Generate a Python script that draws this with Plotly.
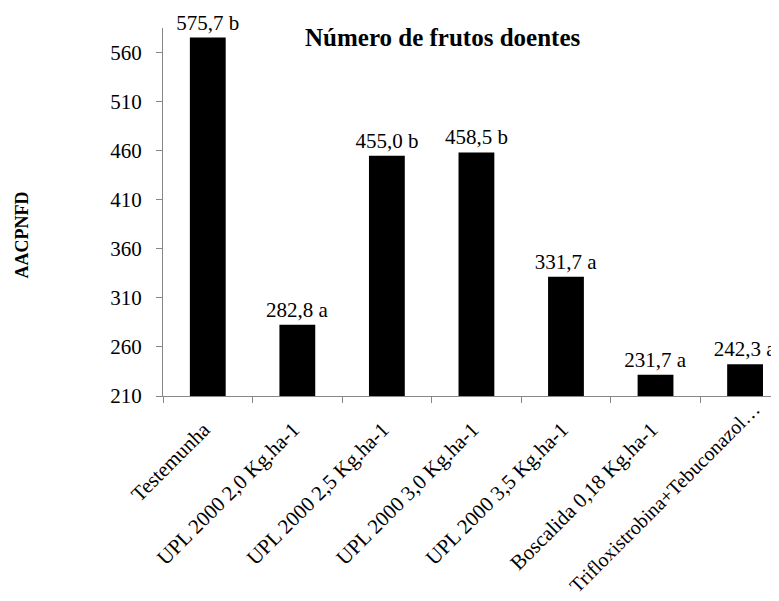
import plotly.graph_objects as go

categories = [
    "Testemunha",
    "UPL 2000 2,0 Kg.ha-1",
    "UPL 2000 2,5 Kg.ha-1",
    "UPL 2000 3,0 Kg.ha-1",
    "UPL 2000 3,5 Kg.ha-1",
    "Boscalida 0,18 Kg.ha-1",
    "Trifloxistrobina+Tebuconazol…",
]
values = [575.7, 282.8, 455.0, 458.5, 331.7, 231.7, 242.3]
letters = ["b", "a", "b", "b", "a", "a", "a"]
labels = [f"{v:.1f}".replace(".", ",") + " " + l for v, l in zip(values, letters)]

FONT = "Liberation Serif, Times New Roman, serif"
AXIS = "#868686"
FS = 21

# page body has an 8px margin, so the figure is offset by 8px in the window
OFF = 8
W, H = 779 - OFF, 601 - OFF
PL, PT, PB = 163 - OFF, 28 - OFF, 396 - OFF  # plot area edges (figure coords)
PW, PH = W - PL, PB - PT

fig = go.Figure(
    go.Bar(
        x=categories,
        y=values,
        width=0.4,
        marker=dict(color="black", line=dict(width=0)),
        text=labels,
        textposition="outside",
        constraintext="none",
        textfont=dict(family=FONT, size=FS, color="black"),
        cliponaxis=False,
    )
)

fig.update_layout(
    width=W,
    height=H,
    margin=dict(l=PL, r=0, t=PT, b=H - PB, pad=0),
    paper_bgcolor="white",
    plot_bgcolor="white",
    showlegend=False,
    font=dict(family=FONT, size=FS, color="black"),
)

# last category label is placed separately (shifted to stay inside the chart, as in the original)
ticktext = categories[:-1] + [""]

fig.update_xaxes(
    type="category",
    range=[-0.5, -0.5 + PW / 89.55],
    tickvals=categories,
    ticktext=ticktext,
    automargin=False,
    showline=True,
    linecolor=AXIS,
    linewidth=1,
    ticks="outside",
    tickson="boundaries",
    ticklen=6,
    tickcolor=AXIS,
    tickangle=-45,
    ticklabelstandoff=12,
    ticklabelshift=-4,
    tickfont=dict(family=FONT, size=FS, color="black"),
    showgrid=False,
    zeroline=False,
)

fig.update_yaxes(
    range=[210, 585.4],
    tick0=210,
    dtick=50,
    automargin=False,
    showline=True,
    linecolor=AXIS,
    linewidth=1,
    ticks="outside",
    ticklen=6,
    tickcolor=AXIS,
    ticklabelstandoff=10,
    tickfont=dict(family=FONT, size=FS, color="black"),
    showgrid=False,
    zeroline=False,
)

fig.add_annotation(
    text=categories[-1],
    xref="x", yref="paper",
    x=categories[-1], y=0,
    xanchor="right", yanchor="top",
    xshift=22, yshift=1,
    textangle=-45,
    showarrow=False,
    font=dict(family=FONT, size=20, color="black"),
)

fig.add_annotation(
    text="<b>Número de frutos doentes</b>",
    xref="paper", yref="paper",
    x=(442 - 163) / PW, y=1 + (28 - 37) / PH,
    xanchor="center", yanchor="middle",
    showarrow=False,
    font=dict(family=FONT, size=25, color="black"),
)

fig.add_annotation(
    text="<b>AACPNFD</b>",
    xref="paper", yref="paper",
    x=(21.5 - 163) / PW, y=(396 - 235) / PH,
    xanchor="center", yanchor="middle",
    textangle=-90,
    showarrow=False,
    font=dict(family=FONT, size=18, color="black"),
)

fig.write_html("out.html")
